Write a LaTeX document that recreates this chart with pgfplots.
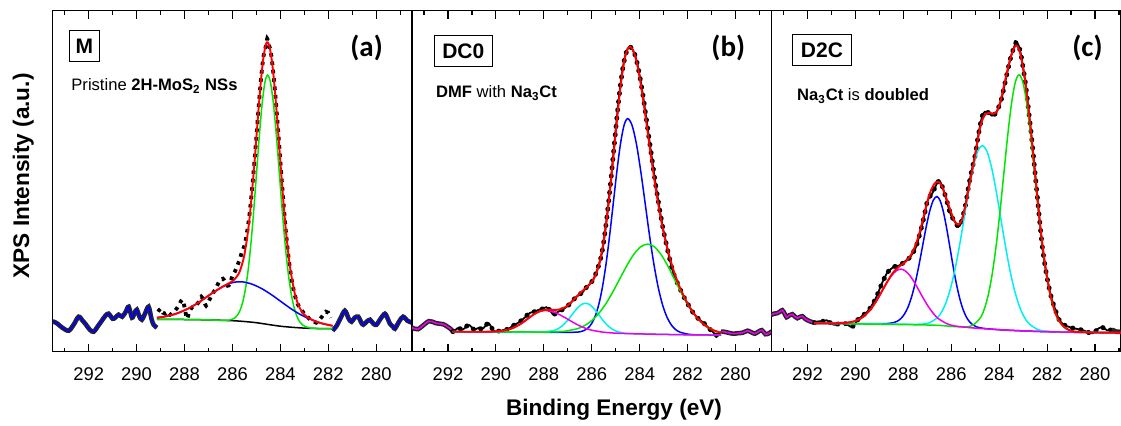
\documentclass[border=0pt]{standalone}
\usepackage{pgfplots}
\pgfplotsset{compat=1.18}
\usepackage{fontspec}
\setmainfont{Liberation Sans}
\newfontfamily\calibri{Carlito}
\definecolor{cRed}{RGB}{255,0,0}
\definecolor{cGreen}{RGB}{0,230,0}
\definecolor{cBlue}{RGB}{0,0,255}
\definecolor{cCyan}{RGB}{0,240,240}
\definecolor{cMag}{RGB}{235,0,235}
\pgfplotsset{
 panel/.style={scale only axis, height=170.5pt, ymin=0, ymax=341, xmax=293.5, x dir=reverse,
   xtick={280,282,...,292}, minor xtick={279,281,...,293}, ytick=\empty,
   tick align=inside, major tick length=4pt, minor tick length=2pt,
   axis line style={line width=0.65pt}, tick style={black, line width=0.6pt},
   xticklabel style={font=\fontsize{9.2}{11}\selectfont, yshift=-4.2pt},
   /pgf/number format/assume math mode=true},
 fit/.style={mark=none, smooth, line width=0.75pt},
 redfit/.style={mark=none, smooth, line width=0.95pt, cRed},
 waveout/.style={mark=none, smooth, line width=2.3pt, black!85},
 wavein/.style={mark=none, smooth, line width=0.8pt},
 dotsA/.style={mark=none, smooth, black, line width=1.9pt, line cap=butt, dash pattern=on 1.8pt off 2.4pt},
 lineBC/.style={mark=none, smooth, black, line width=0.9pt},
 dotsBC/.style={mark=none, smooth, black, line width=2.4pt, line cap=round, dash pattern=on 0.25pt off 3.9pt},
}
\begin{document}
\begin{tikzpicture}
\path[use as bounding box] (0,0) rectangle (560.5pt,212.5pt);
% ---------------- panel (a)
\begin{axis}[panel, at={(26.35pt,36.65pt)}, anchor=south west, width=179.75pt, xmin=278.5]
\addplot[waveout] coordinates {(293.6,30) (293.46,30) (293.3,28) (293.1,24) (292.83,21) (292.6,28) (292.42,35) (292.25,31) (292.14,28) (291.95,22) (291.79,20) (291.6,26) (291.45,31) (291.3,36) (291.17,38) (291.0,33) (290.89,34) (290.75,37) (290.6,35) (290.45,40) (290.33,45) (290.19,34) (290.08,39) (289.99,42) (289.88,35) (289.78,32) (289.65,38) (289.5,45) (289.38,33) (289.29,27) (289.15,24)};
\addplot[wavein, cBlue] coordinates {(293.6,30) (293.46,30) (293.3,28) (293.1,24) (292.83,21) (292.6,28) (292.42,35) (292.25,31) (292.14,28) (291.95,22) (291.79,20) (291.6,26) (291.45,31) (291.3,36) (291.17,38) (291.0,33) (290.89,34) (290.75,37) (290.6,35) (290.45,40) (290.33,45) (290.19,34) (290.08,39) (289.99,42) (289.88,35) (289.78,32) (289.65,38) (289.5,45) (289.38,33) (289.29,27) (289.15,24)};
\addplot[waveout] coordinates {(281.82,21) (281.65,26) (281.5,33) (281.31,41) (281.15,33) (281.03,30) (280.9,34) (280.75,35) (280.62,29) (280.54,27) (280.4,30) (280.26,32) (280.12,28) (279.99,27) (279.82,33) (279.64,38) (279.52,33) (279.43,28) (279.3,25) (279.22,23) (279.05,30) (278.88,35) (278.7,31) (278.5,29) (278.4,29)};
\addplot[wavein, cBlue] coordinates {(281.82,21) (281.65,26) (281.5,33) (281.31,41) (281.15,33) (281.03,30) (280.9,34) (280.75,35) (280.62,29) (280.54,27) (280.4,30) (280.26,32) (280.12,28) (279.99,27) (279.82,33) (279.64,38) (279.52,33) (279.43,28) (279.3,25) (279.22,23) (279.05,30) (278.88,35) (278.7,31) (278.5,29) (278.4,29)};
\addplot[dotsA] coordinates {(289.1,40) (289.0,43) (288.9,39) (288.8,38) (288.7,40) (288.6,37) (288.5,39) (288.4,41) (288.3,44) (288.2,48) (288.1,52) (288.0,45) (287.9,33) (287.8,40) (287.7,44) (287.6,46) (287.5,47) (287.4,50) (287.3,55) (287.2,51) (287.1,46) (287.0,50) (286.9,55) (286.8,59) (286.7,63) (286.6,68) (286.5,72) (286.4,73) (286.3,70) (286.2,66) (286.1,68) (286.0,76) (285.9,80) (285.8,86) (285.7,92) (285.6,100) (285.5,106) (285.4,118) (285.3,135) (285.2,158) (285.1,185) (285.0,215) (284.9,247) (284.8,275) (284.7,296) (284.6,306) (284.55,313) (284.5,308) (284.4,300) (284.3,280) (284.2,254) (284.1,223) (284.0,190) (283.9,158) (283.8,128) (283.7,103) (283.6,83) (283.5,68) (283.4,57) (283.3,49) (283.2,44) (283.1,41) (283.0,38) (282.9,36) (282.8,33) (282.7,31) (282.6,30) (282.5,29) (282.4,31) (282.3,34) (282.2,37) (282.1,40) (282.0,39) (281.9,34)};
\addplot[fit, black] coordinates {(289.15,32.4) (288,32.2) (287,31.8) (286,31.0) (285.5,30.2) (285,29) (284.5,27.2) (284,25.5) (283.5,24.4) (283,23.6) (282.5,23.2) (282,23) (281.82,23)};
\addplot[fit, cGreen] coordinates {(289.15,32.4) (288,32.2) (287,31.8) (286.5,31.4) (286.14,31.6) (285.91,33.6) (285.795,36.4) (285.68,41.5) (285.565,50.2) (285.45,63.8) (285.335,83.7) (285.22,110.4) (285.105,143.4) (284.99,180.2) (284.875,216.7) (284.76,248.2) (284.645,269.4) (284.53,276.7) (284.408,268.7) (284.285,246.7) (284.16,214.4) (284.04,177.0) (283.918,139.6) (283.795,106.0) (283.673,78.7) (283.55,58.3) (283.428,44.2) (283.305,35.1) (283.183,29.6) (283.06,26.5) (282.8,23.9) (282.4,23.2) (281.82,23)};
\addplot[fit, cBlue] coordinates {(289.15,34.0) (288.75,35.5) (288.4,37.6) (288.05,40.9) (287.7,45.0) (287.35,50.2) (287.0,56.1) (286.65,61.5) (286.3,66.3) (285.95,69.4) (285.6,69.9) (285.19,67.6) (284.78,63.1) (284.36,56.8) (283.95,49.7) (283.54,42.7) (283.13,36.7) (282.71,32.1) (282.3,28.5) (281.82,25.9)};
\addplot[redfit] coordinates {(289.15,34.0) (288.8,35.2) (288.4,37.6) (288.0,41.4) (287.6,46.4) (287.2,52.7) (286.8,59.3) (286.4,65.2) (286.1,69.1) (285.9,72.7) (285.7,80.1) (285.5,97.1) (285.3,130.5) (285.1,183.2) (285.0,214.5) (284.9,245.9) (284.8,274.0) (284.7,295.5) (284.6,307.6) (284.53,309.4) (284.45,304.7) (284.35,290.1) (284.25,266.9) (284.15,237.9) (284.05,206.0) (283.95,173.6) (283.85,143.2) (283.75,116.5) (283.6,85.0) (283.4,58.2) (283.2,44.0) (283.0,37.1) (282.8,33.4) (282.5,30.0) (282.2,27.9) (281.82,25.9)};
\end{axis}
% ---------------- panel (b)
\begin{axis}[panel, at={(206pt,36.65pt)}, anchor=south west, width=179.75pt, xmin=278.5]
\addplot[waveout] coordinates {(293.6,24) (293.5,24) (293.4,23) (293.25,22.5) (293.1,25) (292.95,28) (292.8,30.5) (292.65,30) (292.5,28.5) (292.35,28) (292.2,27.5) (292.05,25.5) (291.9,23) (291.77,20)};
\addplot[wavein, cMag] coordinates {(293.6,24) (293.5,24) (293.4,23) (293.25,22.5) (293.1,25) (292.95,28) (292.8,30.5) (292.65,30) (292.5,28.5) (292.35,28) (292.2,27.5) (292.05,25.5) (291.9,23) (291.77,20)};
\addplot[waveout] coordinates {(280.6,20) (280.5,20) (280.3,19) (280.1,18) (279.9,18.5) (279.7,19) (279.5,21) (279.35,19.5) (279.2,18) (279.05,20) (278.9,21.5) (278.75,17.5) (278.6,18.5) (278.5,20) (278.4,20)};
\addplot[wavein, cMag] coordinates {(280.6,20) (280.5,20) (280.3,19) (280.1,18) (279.9,18.5) (279.7,19) (279.5,21) (279.35,19.5) (279.2,18) (279.05,20) (278.9,21.5) (278.75,17.5) (278.6,18.5) (278.5,20) (278.4,20)};
\pgfplotstableread{
E h
291.8 20
291.7 21.5
291.6 23.5
291.5 23
291.4 22
291.3 23.5
291.2 26
291.1 26.5
291.0 24
290.9 22
290.8 23
290.7 24
290.6 22.5
290.5 24
290.4 27
290.3 28.5
290.2 25
290.1 21
290.0 20
289.9 20.5
289.8 21
289.7 21.5
289.6 22
289.5 22.5
289.4 24
289.3 26
289.2 27
289.1 28.5
289.0 30
288.9 32
288.8 34
288.7 36.5
288.6 38.5
288.5 39.5
288.4 40
288.3 41
288.2 42
288.1 42.5
288.0 43.5
287.9 44.5
287.8 43
287.7 40
287.6 37
287.5 38.5
287.4 40
287.3 41
287.2 42.5
287.1 44
287.0 46
286.9 48
286.8 51
286.7 53.5
286.6 55.5
286.5 57.5
286.4 59
286.3 62
286.2 65
286.1 67.5
286.0 70
285.9 74
285.8 80
285.7 87
285.6 96
285.5 110
285.4 128
285.3 149
285.2 172
285.1 197
285.0 222
284.9 246
284.8 267
284.7 284
284.6 296
284.5 303
284.4 305
284.3 302
284.2 297
284.1 288
284.0 276
283.9 262
283.8 246
283.7 229
283.6 212
283.5 195
283.4 178
283.3 162
283.2 147
283.1 133
283.0 120
282.9 109
282.8 98
282.7 88
282.6 79
282.5 73
282.4 67
282.3 62
282.2 57
282.1 52
282.0 48
281.9 44
281.8 40
281.7 37
281.6 34
281.5 32
281.4 30
281.3 28
281.2 25.5
281.1 23
281.0 21
280.9 18.5
280.8 16.5
280.7 17.5
280.6 20
}\dataB
\addplot[lineBC] table[x=E,y=h] {\dataB};
\addplot[dotsBC] table[x=E,y=h] {\dataB};
\addplot[fit, cBlue] coordinates {(291.8,20) (287.5,19.4) (286.6,19.6) (286.3,21.4) (286.15,23.8) (286.0,28.3) (285.85,35.9) (285.7,47.8) (285.55,65.1) (285.4,88.4) (285.25,116.9) (285.1,148.8) (284.95,180.6) (284.8,208.0) (284.65,226.6) (284.5,233.1) (284.318,226.4) (284.135,207.6) (283.953,180.1) (283.77,148.1) (283.588,116.0) (283.405,87.3) (283.223,63.9) (283.04,46.4) (282.858,34.4) (282.675,26.6) (282.493,22.0) (282.31,19.5) (281.945,17.4) (281.5,16.8) (280.6,16.6)};
\addplot[fit, cCyan] coordinates {(291.8,20) (288.5,19.7) (287.66,20.8) (287.38,23.4) (287.24,25.7) (287.1,28.9) (286.96,32.7) (286.82,37.1) (286.68,41.4) (286.54,45.1) (286.4,47.6) (286.26,48.5) (286.12,47.6) (285.98,44.9) (285.84,41.1) (285.7,36.7) (285.56,32.2) (285.42,28.2) (285.28,25.0) (285.14,22.5) (284.86,19.6) (284.3,18.0) (282,16.9) (280.6,16.6)};
\addplot[fit, cGreen] coordinates {(291.8,20) (288.5,19.7) (287.755,19.7) (287.17,20.3) (286.585,23.1) (286.293,26.2) (286.0,31.1) (285.708,38.3) (285.415,47.8) (285.123,59.7) (284.83,72.9) (284.538,86.0) (284.245,97.4) (283.953,105.0) (283.66,107.6) (283.378,104.7) (283.095,96.7) (282.813,85.1) (282.53,71.7) (282.248,58.2) (281.965,46.1) (281.683,36.3) (281.4,29.0) (281.118,23.9) (280.835,20.7) (280.6,19.0)};
\addplot[fit, cMag] coordinates {(291.8,20) (290.5,19.9) (290.1,20.1) (289.75,20.8) (289.39,22.7) (289.21,24.5) (289.03,26.8) (288.85,29.6) (288.67,32.9) (288.49,36.0) (288.31,38.8) (288.13,40.6) (287.95,41.3) (287.71,40.5) (287.475,38.6) (287.24,35.7) (287.0,32.5) (286.76,29.1) (286.525,26.1) (286.29,23.7) (286.05,21.8) (285.575,19.7) (285.1,18.7) (284.5,18.1) (283,17.3) (282,16.9) (280.6,16.6)};
\addplot[redfit] coordinates {(291.8,20.0) (291.0,19.95) (290.5,19.96) (290.0,20.3) (289.6,21.45) (289.3,23.6) (289.0,27.3) (288.7,32.4) (288.4,37.6) (288.1,41.0) (287.9,41.8) (287.7,41.9) (287.5,41.8) (287.3,42.6) (287.1,44.6) (286.9,48.5) (286.7,53.4) (286.5,58.3) (286.3,62.7) (286.1,66.9) (285.9,73.5) (285.7,86.8) (285.5,110.8) (285.3,147.9) (285.1,194.8) (284.9,243.4) (284.8,265.0) (284.7,282.8) (284.6,295.8) (284.5,302.9) (284.4,304.8) (284.3,302.6) (284.2,296.5) (284.1,286.9) (284.0,274.2) (283.9,259.2) (283.8,242.8) (283.7,225.5) (283.6,208.1) (283.5,190.8) (283.4,174.2) (283.3,158.7) (283.2,144.2) (283.1,131.2) (283.0,119.2) (282.8,98.9) (282.6,82.4) (282.4,68.8) (282.2,57.6) (282.0,48.1) (281.8,40.3) (281.6,33.9) (281.4,29.0) (281.2,25.1) (281.0,22.3) (280.8,20.4) (280.6,18.9)};
\end{axis}
% ---------------- panel (c)
\begin{axis}[panel, at={(385.75pt,36.65pt)}, anchor=south west, width=174.75pt, xmin=278.917]
\addplot[waveout] coordinates {(293.6,37) (293.5,37) (293.4,38) (293.26,38.5) (293.15,40) (293.05,41.5) (292.95,38) (292.87,34.5) (292.75,36.5) (292.63,37.5) (292.52,35) (292.42,33.5) (292.3,35) (292.21,35.5) (292.1,33) (292.0,31.5) (291.85,30) (291.72,29)};
\addplot[wavein, cMag] coordinates {(293.6,37) (293.5,37) (293.4,38) (293.26,38.5) (293.15,40) (293.05,41.5) (292.95,38) (292.87,34.5) (292.75,36.5) (292.63,37.5) (292.52,35) (292.42,33.5) (292.3,35) (292.21,35.5) (292.1,33) (292.0,31.5) (291.85,30) (291.72,29)};
\pgfplotstableread{
E h
291.7 29
291.6 30
291.5 30.5
291.4 30
291.3 31
291.2 31.5
291.1 30
291.0 28
290.9 27
290.8 27
290.7 28
290.6 29
290.5 29
290.4 28
290.3 26.5
290.2 25
290.1 25.5
290.0 28
289.9 32
289.8 34
289.7 36
289.6 38
289.5 40
289.4 43
289.3 47
289.2 51
289.1 56
289.0 62
288.9 68
288.8 73
288.7 78
288.6 81
288.5 83
288.4 85
288.3 85.5
288.2 86
288.1 87
288.0 89
287.9 91
287.8 92.5
287.7 95
287.6 99
287.5 103
287.4 110
287.3 119
287.2 128
287.1 139
287.0 150
286.9 155
286.8 158
286.7 163
286.6 168
286.5 171
286.4 167
286.3 160
286.2 152
286.1 143
286.0 136
285.9 132
285.8 128
285.7 125
285.6 128
285.5 137
285.4 147
285.3 162
285.2 175
285.1 186
285.0 197
284.9 212
284.8 226
284.7 236
284.6 240
284.5 240
284.4 238
284.3 236
284.2 237
284.1 240
284.0 246
283.9 253
283.8 264
283.7 275
283.6 286
283.5 296
283.4 303
283.3 309
283.2 307
283.1 298
283.0 284
282.9 268
282.8 247
282.7 226
282.6 203
282.5 178
282.4 153
282.3 128
282.2 105
282.1 88
282.0 74
281.9 62
281.8 52
281.7 45
281.6 38
281.5 32
281.4 29
281.3 27
281.2 25.5
281.1 25
281.0 24
280.9 23.5
280.8 23
280.7 22.5
280.6 22
280.5 21.5
280.4 20.5
280.3 19.5
280.2 18.5
280.1 18.5
280.0 20
279.9 22.5
279.8 24
279.7 24.5
279.6 23
279.5 21.5
279.4 21.5
279.3 22
}\dataC
\addplot[lineBC] table[x=E,y=h] {\dataC};
\addplot[dotsBC] table[x=E,y=h] {\dataC};
\addplot[fit, cBlue] coordinates {(291.72,28.4) (289.0,28.0) (288.7,28.1) (288.4,29.1) (288.25,30.5) (288.1,33.2) (287.95,37.7) (287.8,44.8) (287.65,55.2) (287.5,69.1) (287.35,86.2) (287.2,105.2) (287.05,124.2) (286.9,140.4) (286.75,151.4) (286.6,155.2) (286.463,151.0) (286.325,139.6) (286.188,123.0) (286.05,103.6) (285.913,84.2) (285.775,66.7) (285.638,52.5) (285.5,41.8) (285.363,34.4) (285.225,29.6) (285.088,26.7) (284.95,24.9) (284.675,23.4) (284,22) (283,20.8) (282,20) (281,19.5) (280,19.2) (278.8,19)};
\addplot[fit, cCyan] coordinates {(291.72,28.4) (288,27.5) (287.33,27.5) (286.95,28.6) (286.575,34.0) (286.388,40.3) (286.2,50.3) (286.013,64.9) (285.825,84.4) (285.638,108.4) (285.45,135.3) (285.263,162.1) (285.075,185.2) (284.888,200.8) (284.7,206.1) (284.508,200.2) (284.315,184.0) (284.123,160.3) (283.93,132.9) (283.738,105.5) (283.545,80.8) (283.353,60.8) (283.16,45.7) (282.968,35.3) (282.775,28.5) (282.39,22.2) (282.005,20.4) (281,19.5) (280,19.2) (278.8,19)};
\addplot[fit, cGreen] coordinates {(291.72,28.4) (287,26.7) (286,25.3) (285.41,24.8) (285.09,26.6) (284.77,34.4) (284.61,43.4) (284.45,57.3) (284.29,77.9) (284.13,105.3) (283.97,139.2) (283.81,177.1) (283.65,214.8) (283.49,247.3) (283.33,269.2) (283.17,277.0) (283.005,268.9) (282.84,246.5) (282.675,213.7) (282.51,175.6) (282.345,137.4) (282.18,103.2) (282.015,75.4) (281.85,54.5) (281.685,40.3) (281.52,31.0) (281.19,22.4) (280.86,20.1) (280,19.2) (278.8,19)};
\addplot[waveout] coordinates {(279.3,22) (279.2,21) (279.1,20) (279.0,20) (278.9,19.5) (278.8,19.5)};
\addplot[fit, cMag] coordinates {(291.72,28.4) (290.5,28.6) (290.025,30.5) (289.643,35.5) (289.45,40.0) (289.258,45.9) (289.065,53.2) (288.87,61.3) (288.68,69.4) (288.485,76.3) (288.29,80.9) (288.1,82.6) (287.91,80.7) (287.715,75.8) (287.52,68.7) (287.33,60.5) (287.135,52.1) (286.94,44.6) (286.75,38.3) (286.555,33.4) (286.17,27.9) (285.79,25.5) (285.0,23.6) (284,22) (283,20.8) (282,20) (281,19.5) (280,19.2) (278.8,19)};
\addplot[redfit] coordinates {(291.72,28.4) (291.0,28.3) (290.5,28.6) (290.0,30.7) (289.7,34.4) (289.4,41.3) (289.1,51.7) (288.8,64.5) (288.5,76.7) (288.3,82.5) (288.1,86.5) (287.9,90) (287.7,96) (287.5,106) (287.3,121) (287.1,140) (286.9,158) (286.7,168) (286.55,170) (286.4,166) (286.2,153) (286.0,139) (285.85,130) (285.7,127) (285.55,132) (285.4,147) (285.2,172) (285.0,197) (284.85,218) (284.7,232) (284.55,238) (284.4,239) (284.25,238) (284.1,240) (283.95,250) (283.8,266) (283.65,282) (283.5,296) (283.35,305) (283.25,306) (283.15,301) (283.05,290) (282.9,268) (282.7,226) (282.5,177) (282.3,129) (282.1,90) (281.9,61) (281.7,42) (281.5,31) (281.3,25) (281.1,22) (280.9,20.3) (280.7,19.7) (280.4,19.4) (280.0,19.2) (279.5,19.1) (279.0,19.0) (278.8,19)};
\end{axis}
% ---------------- texts
\node[font={\fontsize{11.3}{13}\selectfont\bfseries}] at (307pt,7.5pt) {Binding Energy (eV)};
\node[rotate=90, font={\fontsize{11.3}{13}\selectfont\bfseries}] at (11.7pt,124.6pt) {XPS Intensity (a.u.)};
\node[font={\fontsize{14.5}{16}\calibri\bfseries}] at (183.3pt,188.35pt) {(a)};
\node[font={\fontsize{14.5}{16}\calibri\bfseries}] at (364.15pt,188.35pt) {(b)};
\node[font={\fontsize{14.5}{16}\calibri\bfseries}] at (543.75pt,188.35pt) {(c)};
\node[draw, line width=0.5pt, minimum width=15pt, minimum height=15.8pt, inner sep=0pt, font={\fontsize{10.5}{12}\selectfont\bfseries}] at (42.15pt,189.6pt) {M};
\node[draw, line width=0.5pt, minimum width=29pt, minimum height=15.4pt, inner sep=0pt, font={\fontsize{10.5}{12}\selectfont\bfseries}] at (231.65pt,186.85pt) {DC0};
\node[draw, line width=0.5pt, minimum width=29.6pt, minimum height=15.6pt, inner sep=0pt, font={\fontsize{10.5}{12}\selectfont\bfseries}] at (411pt,187.5pt) {D2C};
\node[anchor=base west, inner sep=0pt, font={\fontsize{8.3}{10}\selectfont}] at (35.5pt,167.15pt) {Pristine \textbf{2H-MoS\textsubscript{2} NSs}};
\node[anchor=base west, inner sep=0pt, font={\fontsize{8.3}{10}\selectfont}] at (217.85pt,163.65pt) {\textbf{DMF} with \textbf{Na\textsubscript{3}Ct}};
\node[anchor=base west, inner sep=0pt, font={\fontsize{8.3}{10}\selectfont}] at (398.35pt,162.15pt) {\textbf{Na\textsubscript{3}Ct} is \textbf{doubled}};
\end{tikzpicture}
\end{document}
